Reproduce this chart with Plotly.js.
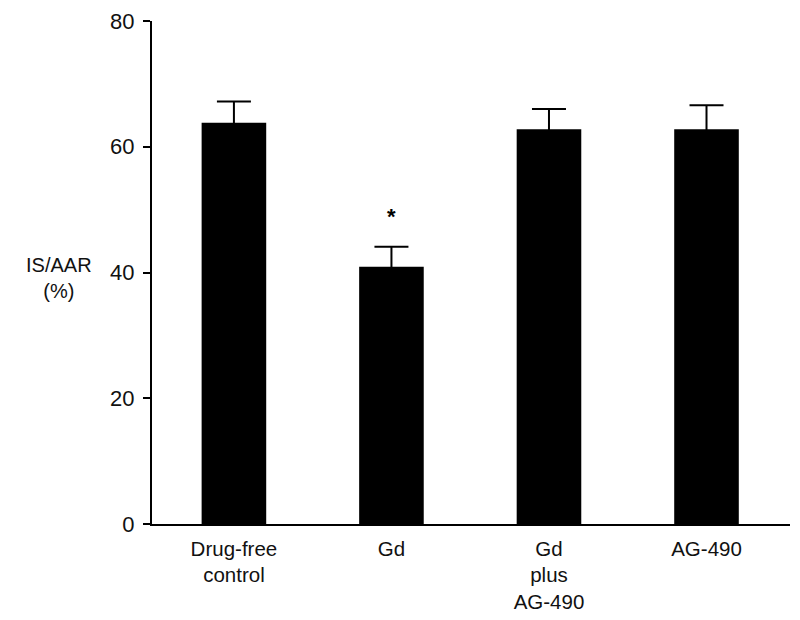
<!DOCTYPE html>
<html>
<head>
<meta charset="utf-8">
<script src="https://cdn.plot.ly/plotly-3.0.1.min.js"></script>
<style>body{margin:0;background:#fff;} #chart{width:800px;height:620px;}</style>
</head>
<body>
<div id="chart"></div>
<script>
const categories = ["Drug-free<br>control", "Gd", "Gd<br>plus<br>AG-490", "AG-490"];
const means = [63.8, 40.9, 62.8, 62.8];
const errors = [3.4, 3.2, 3.2, 3.8];
const yTicks = [0, 20, 40, 60, 80];
const sigIndex = 1;

const fam = "Liberation Sans, Arial, sans-serif";

const trace = {
  type: "bar",
  x: categories,
  y: means,
  width: 0.41,
  marker: {color: "#000", line: {width: 0}},
  error_y: {type: "data", array: errors, visible: true, color: "#000", thickness: 2, width: 17}
};

const layout = {
  width: 800, height: 620,
  margin: {l: 152, r: 10, t: 21, b: 96},
  paper_bgcolor: "#fff", plot_bgcolor: "#fff",
  showlegend: false,
  font: {family: fam, size: 20, color: "#000"},
  xaxis: {
    type: "category",
    range: [-0.52, 3.53],
    showline: true, linecolor: "#000", linewidth: 2,
    ticks: "", showgrid: false, zeroline: false,
    tickfont: {family: fam, size: 20.5, color: "#111"},
    ticklabelstandoff: 5,
    fixedrange: true
  },
  yaxis: {
    range: [0, 80],
    tickvals: yTicks,
    ticktext: yTicks.map(String),
    showline: true, linecolor: "#000", linewidth: 2,
    ticks: "outside", ticklen: 7, tickwidth: 2, tickcolor: "#000",
    showgrid: false, zeroline: false,
    tickfont: {family: fam, size: 22, color: "#111"},
    ticklabelstandoff: 4,
    fixedrange: true
  },
  annotations: [
    {xref: "paper", yref: "paper", x: -0.145, y: 0.489, xanchor: "center", yanchor: "middle",
     text: "IS/AAR<br>(%)", showarrow: false, font: {family: fam, size: 20, color: "#111"}},
    {x: categories[sigIndex], y: means[sigIndex] + errors[sigIndex], yshift: 30,
     text: "<b>*</b>", showarrow: false, font: {family: fam, size: 22, color: "#000"}}
  ]
};

Plotly.newPlot("chart", [trace], layout, {displayModeBar: false, staticPlot: true});
</script>
</body>
</html>
